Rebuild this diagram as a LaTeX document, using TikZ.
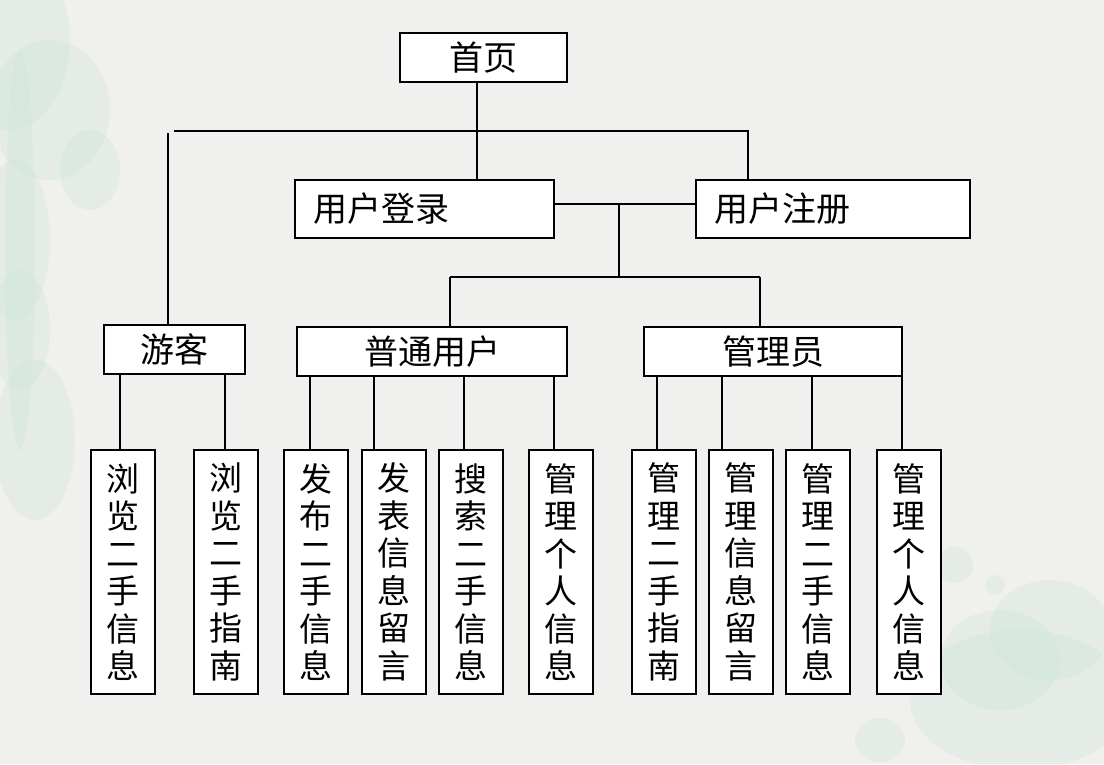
\documentclass[tikz,border=0pt]{standalone}
\usepackage{fontspec}
\newfontfamily\cjk{Noto Sans CJK SC}
\usetikzlibrary{calc}
\definecolor{bgcol}{RGB}{240,240,239}
\definecolor{wash}{RGB}{190,224,208}
\tikzset{
  box/.style={draw=black, line width=2pt, fill=white, inner sep=0pt, font=\cjk\fontsize{34}{40}\selectfont},
  lbox/.style={box, inner xsep=18pt, align=left},
  leaf/.style={draw=black, line width=2pt, fill=white, inner sep=0pt, minimum width=64pt, minimum height=244pt, align=center, font=\cjk\fontsize{33}{37.5}\selectfont},
  conn/.style={line width=2pt, black},
  blob/.style={fill=wash, opacity=0.22}
}
\begin{document}
\begin{tikzpicture}[x=1pt,y=-1pt]
\fill[bgcol] (0,0) rectangle (1104,764);
\useasboundingbox (0,0) rectangle (1104,764);
% watercolour washes
\fill[blob] (10,40) ellipse (60 and 90);
\fill[blob] (50,110) ellipse (60 and 70);
\fill[blob] (90,170) ellipse (30 and 40);
\fill[blob] (15,240) ellipse (35 and 80);
\fill[blob] (20,330) ellipse (30 and 60);
\fill[blob] (35,440) ellipse (40 and 80);
\fill[blob] (20,250) ellipse (15 and 200);
\fill[blob] (1020,700) ellipse (110 and 70);
\fill[blob] (1050,630) ellipse (60 and 50);
\fill[blob] (1000,660) ellipse (60 and 50);
\fill[blob] (955,565) ellipse (18 and 18);
\fill[blob] (995,585) ellipse (10 and 10);
\fill[blob] (880,740) ellipse (25 and 22);
% junction coordinates
\coordinate (j1) at (477,131);
\coordinate (bl) at (174,131);
\coordinate (br) at (748,131);
\coordinate (gl) at (168,133);
\coordinate (j2) at (619,204);
\coordinate (j3) at (619,277);
\coordinate (bl2) at (450,277);
\coordinate (br2) at (760,277);
% boxes
\path (483.5,57.5) node[box, minimum width=167pt, minimum height=49pt] (home) {首页};
\path (424.5,209) node[lbox, text width=223pt, minimum height=58pt] (login) {用户登录};
\path (833,209) node[lbox, text width=238pt, minimum height=58pt] (reg) {用户注册};
\path (174.5,349.5) node[box, minimum width=141pt, minimum height=49pt] (guest) {游客};
\path (432,351.5) node[box, minimum width=270pt, minimum height=49pt] (user) {普通用户};
\path (773,351.5) node[box, minimum width=258pt, minimum height=49pt] (admin) {管理员};
\path (123,572) node[leaf] (l1) {浏\\览\\二\\手\\信\\息};
\path (226,572) node[leaf] (l2) {浏\\览\\二\\手\\指\\南};
\path (316,572) node[leaf] (l3) {发\\布\\二\\手\\信\\息};
\path (393.5,572) node[leaf] (l4) {发\\表\\信\\息\\留\\言};
\path (470.5,572) node[leaf] (l5) {搜\\索\\二\\手\\信\\息};
\path (561,572) node[leaf] (l6) {管\\理\\个\\人\\信\\息};
\path (664,572) node[leaf] (l7) {管\\理\\二\\手\\指\\南};
\path (741,572) node[leaf] (l8) {管\\理\\信\\息\\留\\言};
\path (818,572) node[leaf] (l9) {管\\理\\二\\手\\信\\息};
\path (908.5,572) node[leaf] (l10) {管\\理\\个\\人\\信\\息};
% connectors
\draw[conn] (home.south -| j1) -- (j1) -- (j1 |- login.north);
\draw[conn] (bl) -- (br) -- (br |- reg.north);
\draw[conn] (gl) -- (gl |- guest.north);
\draw[conn] (login.east |- j2) -- (reg.west |- j2);
\draw[conn] (j2) -- (j3);
\draw[conn] (bl2) -- (br2);
\draw[conn] (bl2) -- (bl2 |- user.north);
\draw[conn] (br2) -- (br2 |- admin.north);
\foreach \p/\l/\x in {guest/l1/120, guest/l2/225, user/l3/310, user/l4/374, user/l5/464, user/l6/554, admin/l7/657, admin/l8/722, admin/l9/812, admin/l10/902}{
  \coordinate (t) at (\x,0);
  \draw[conn] (\p.south -| t) -- (\l.north -| t);
}
\end{tikzpicture}
\end{document}
